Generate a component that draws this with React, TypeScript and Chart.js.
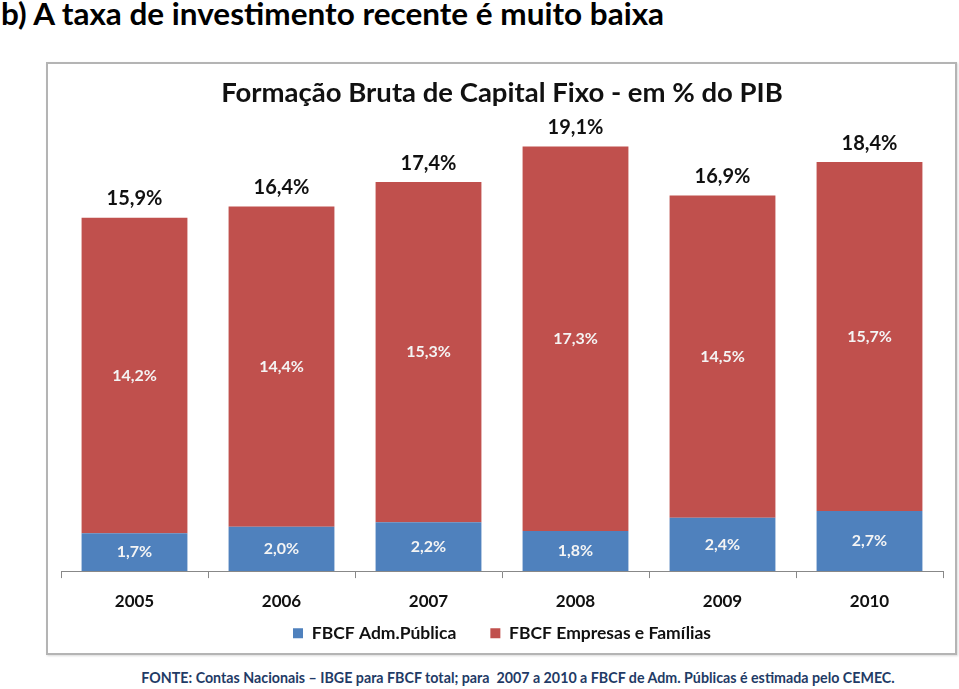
import React, { useEffect, useRef } from "react";
import { Chart, registerables } from "chart.js";

Chart.register(...registerables);

const categories = ["2005", "2006", "2007", "2008", "2009", "2010"];
const publicValues = [1.7, 2.0, 2.2, 1.8, 2.4, 2.7];
const privateValues = [14.2, 14.4, 15.3, 17.3, 14.5, 15.7];
const totalValues = [15.9, 16.4, 17.4, 19.1, 16.9, 18.4];
const seriesNames = ["FBCF Adm.Pública", "FBCF Empresas e Famílias"];

const FONT = "Lato, 'Noto Sans', sans-serif";
const fmt = (v: number) => v.toFixed(1).replace(".", ",") + "%";

const labelsPlugin = {
  id: "barLabels",
  afterDatasetsDraw(chart: any) {
    const ctx = chart.ctx;
    ctx.save();
    ctx.textAlign = "center";
    ctx.textBaseline = "middle";
    ctx.font = `bold 16px ${FONT}`;
    ctx.fillStyle = "#F4F4F4";
    chart.data.datasets.forEach((ds: any, i: number) => {
      const meta = chart.getDatasetMeta(i);
      meta.data.forEach((bar: any, j: number) => {
        const p = bar.getProps(["x", "y", "base"], true);
        ctx.fillText(fmt(ds.data[j]), p.x, (p.y + p.base) / 2);
      });
    });
    const top = chart.getDatasetMeta(1);
    ctx.font = `bold 20px ${FONT}`;
    ctx.fillStyle = "#111";
    top.data.forEach((bar: any, j: number) => {
      const p = bar.getProps(["x", "y"], true);
      ctx.fillText(fmt(totalValues[j]), p.x, p.y - 19);
    });
    ctx.restore();
  },
};

export default function App() {
  const ref = useRef<HTMLCanvasElement>(null);
  useEffect(() => {
    if (!ref.current) return;
    const chart = new Chart(ref.current, {
      type: "bar",
      data: {
        labels: categories,
        datasets: [
          { label: seriesNames[0], data: publicValues, backgroundColor: "#4F81BD", categoryPercentage: 1, barPercentage: 0.72 },
          { label: seriesNames[1], data: privateValues, backgroundColor: "#C0504D", categoryPercentage: 1, barPercentage: 0.72 },
        ],
      },
      options: {
        animation: false,
        responsive: false,
        layout: { padding: { left: 13, right: 12, top: 0, bottom: 1 } },
        plugins: {
          title: {
            display: true,
            text: "Formação Bruta de Capital Fixo - em % do PIB",
            color: "#111",
            font: { family: FONT, size: 27.5, weight: "bold" },
            padding: { top: 13, bottom: 16.5 },
          },
          legend: {
            position: "bottom",
            labels: {
              boxWidth: 10,
              boxHeight: 10,
              padding: 0,
              color: "#111",
              font: { family: FONT, size: 17.5, weight: "bold" },
              generateLabels(chart: any) {
                const items = Chart.defaults.plugins.legend.labels.generateLabels(chart);
                return items.map((it: any, i: number) => ({
                  ...it,
                  text: i < items.length - 1 ? it.text + "        " : it.text,
                  lineWidth: 0,
                }));
              },
            },
          },
          tooltip: { enabled: false },
        },
        scales: {
          x: {
            stacked: true,
            grid: { display: true, drawOnChartArea: false, drawTicks: true, tickLength: 7, color: "#888", offset: true },
            border: { display: true, color: "#888", width: 1 },
            ticks: { color: "#111", font: { family: FONT, size: 17, weight: "bold" }, padding: 13 },
          },
          y: {
            stacked: true,
            display: false,
            min: 0,
            max: 20,
          },
        },
      },
      plugins: [labelsPlugin],
    });
    return () => chart.destroy();
  }, []);

  return (
    <div style={{ position: "absolute", left: 0, top: 0, width: 959, height: 689, background: "#fff", overflow: "hidden" }}>
      <div
        style={{
          position: "absolute",
          left: 1,
          top: -4,
          fontFamily: FONT,
          fontWeight: "bold",
          fontSize: 30,
          lineHeight: "34px",
          color: "#000",
          whiteSpace: "nowrap",
          transform: "scaleX(1.05)",
          transformOrigin: "left center",
        }}
      >
        b) A taxa de investimento recente é muito baixa
      </div>
      <div
        style={{
          position: "absolute",
          left: 46,
          top: 62,
          width: 907,
          height: 589,
          border: "2px solid #B4B4B4",
          boxShadow: "1px 1px 2px rgba(0,0,0,0.15)",
          background: "#fff",
        }}
      >
        <canvas ref={ref} width={907} height={589} style={{ display: "block" }} />
      </div>
      <div
        style={{
          position: "absolute",
          left: 0,
          width: 1036,
          top: 666,
          textAlign: "center",
          fontFamily: FONT,
          fontWeight: "bold",
          fontSize: 16,
          lineHeight: "22px",
          color: "#1F3B66",
          whiteSpace: "pre",
          transform: "scaleX(0.89)",
          transformOrigin: "518px center",
        }}
      >
        FONTE: Contas Nacionais – IBGE para FBCF total; para  2007 a 2010 a FBCF de Adm. Públicas é estimada pelo CEMEC.
      </div>
    </div>
  );
}
